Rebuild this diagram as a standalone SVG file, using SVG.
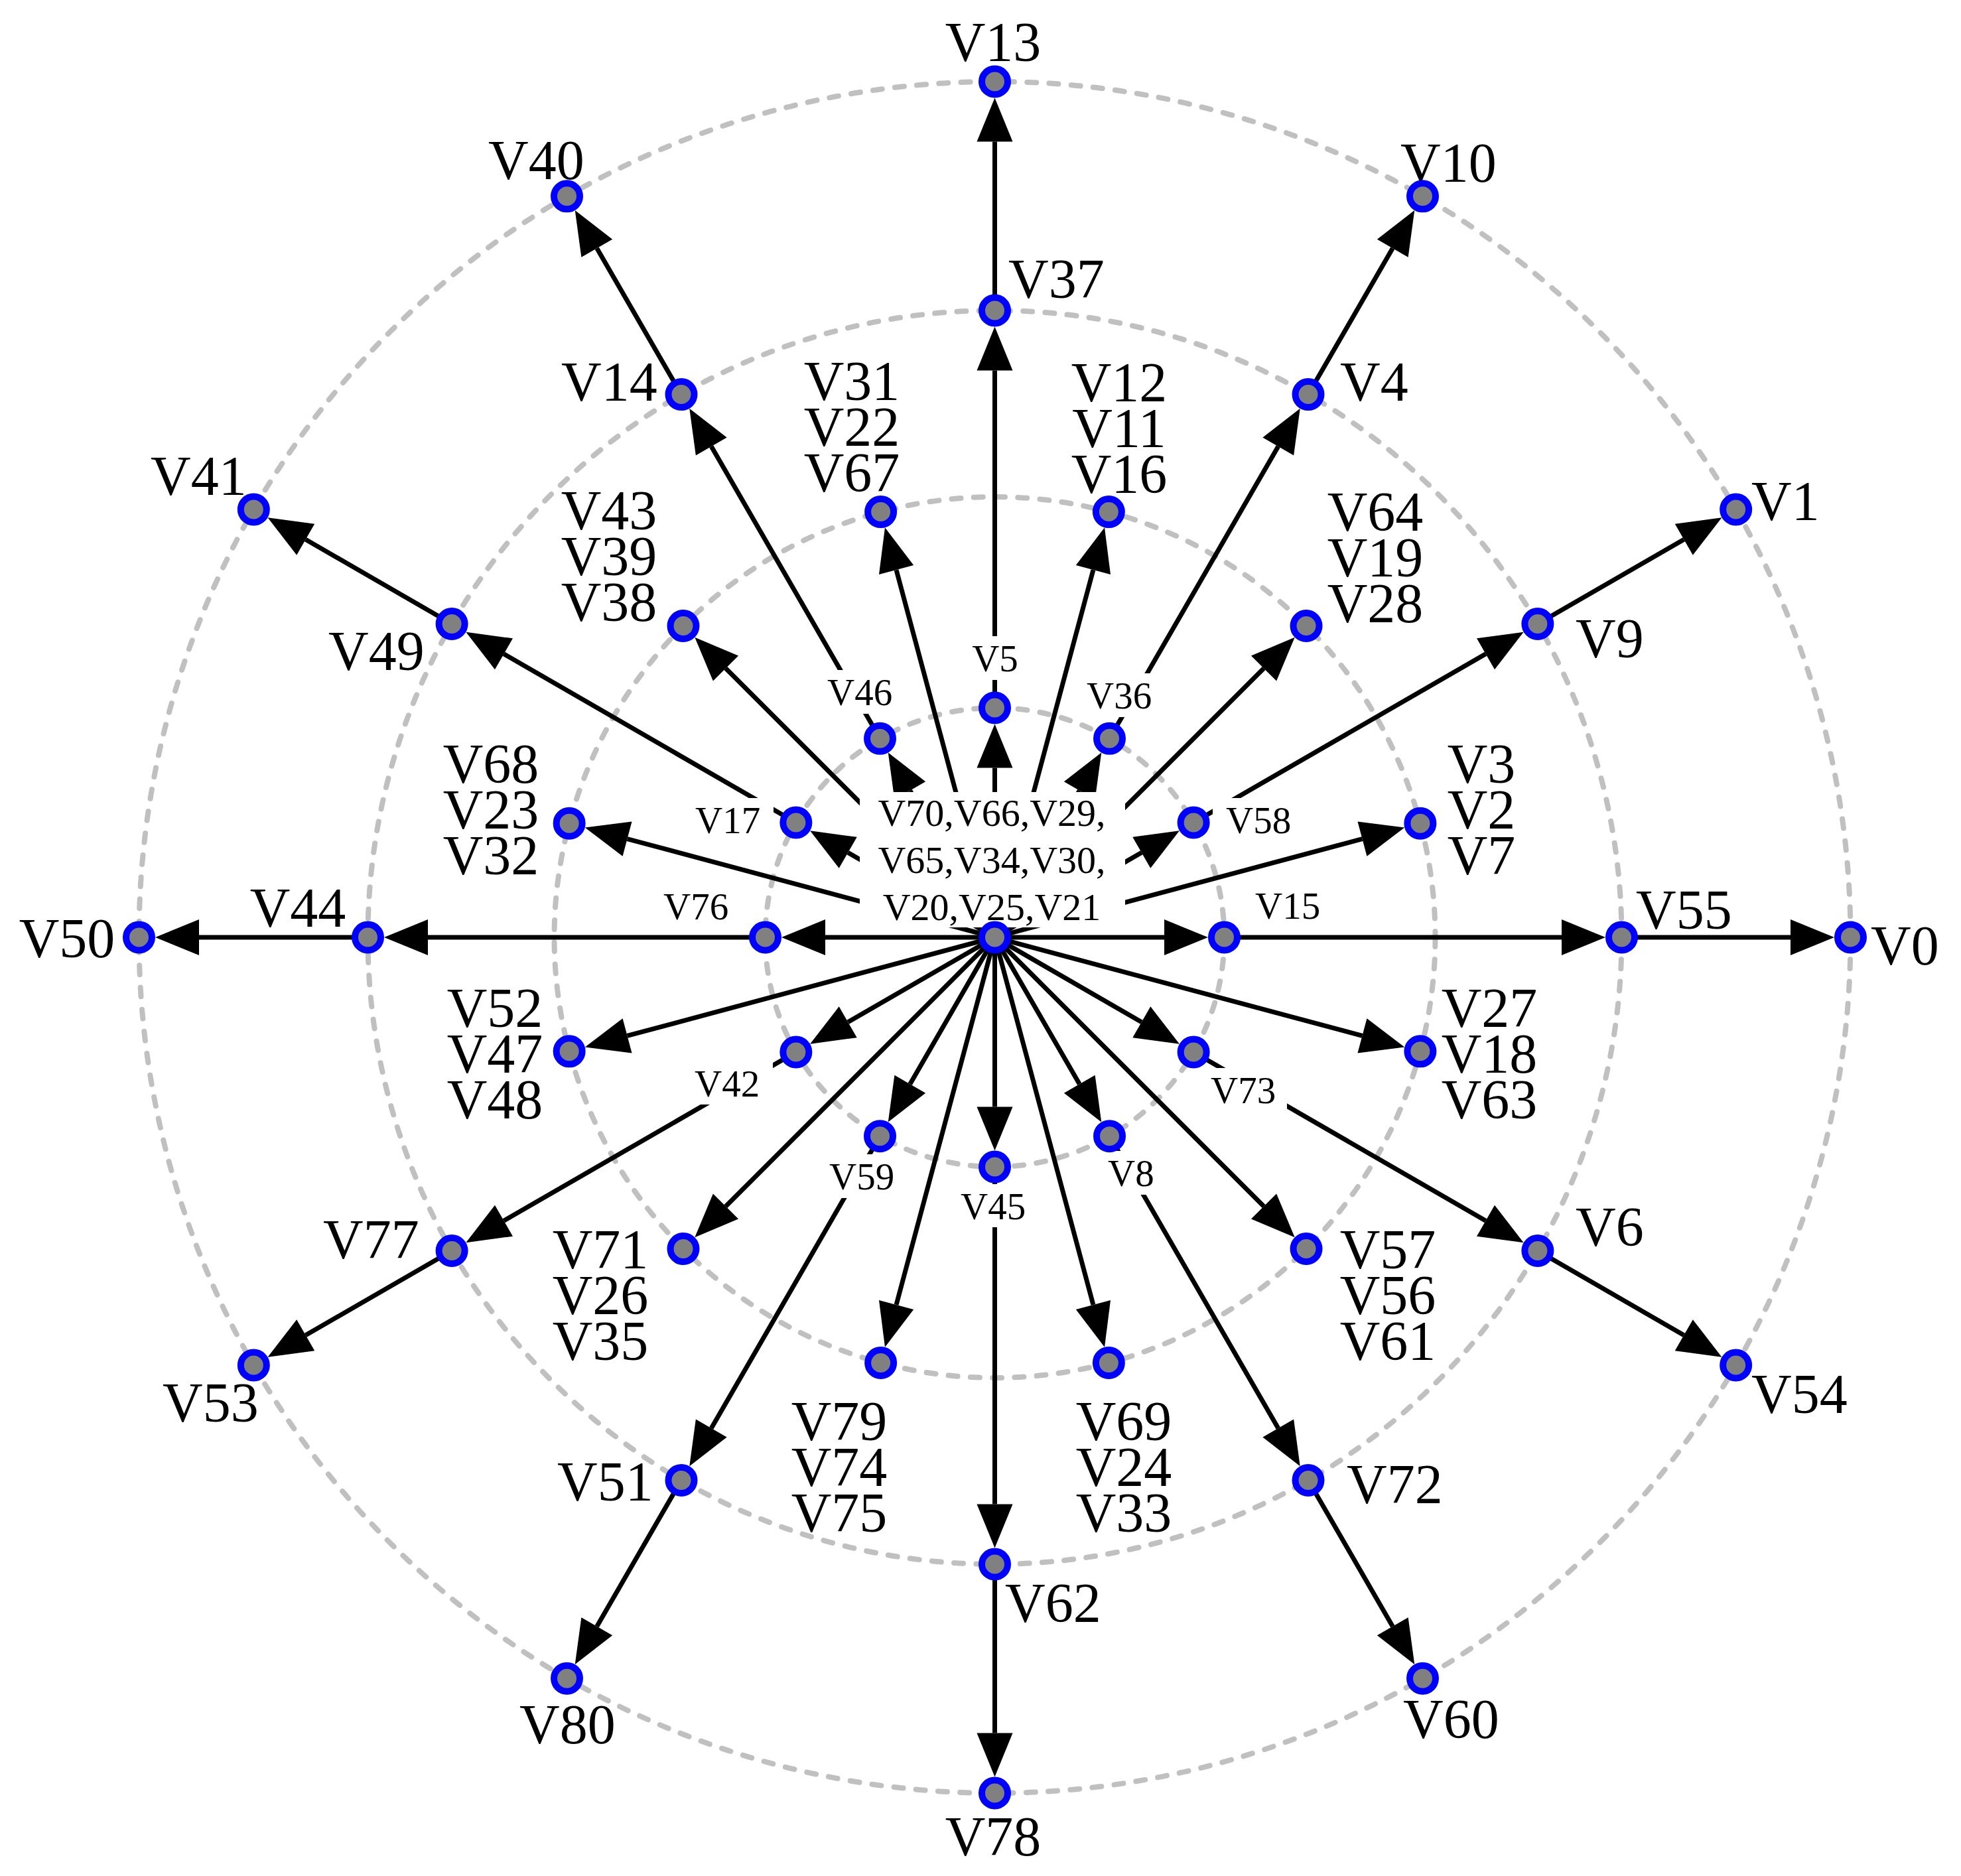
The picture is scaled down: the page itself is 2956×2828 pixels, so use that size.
<svg xmlns="http://www.w3.org/2000/svg" width="2956" height="2828" viewBox="0 0 2956 2828">
<style>
.ring{fill:none;stroke:#c0c0c0;stroke-width:8;stroke-dasharray:14 19.3;stroke-linecap:round}
.e{stroke:#000;stroke-width:7;fill:none;marker-end:url(#ah)}
.n{fill:#808080;stroke:#0000ff;stroke-width:10}
text{font-family:"Liberation Serif","Times New Roman",serif;fill:#000}
.lb{font-size:84px}
.ls{font-size:57px}
.lc{font-size:58px}
.bg{fill:#fff}
</style>
<defs>
<marker id="ah" markerUnits="userSpaceOnUse" viewBox="0 0 66 54" markerWidth="66" markerHeight="54" refX="0" refY="27" orient="auto" overflow="visible"><path d="M0,0 L66,27 L0,54 Z" fill="#000"/></marker>
</defs>
<rect width="2956" height="2828" fill="#fff"/>
<g id="rings">
<circle class="ring" cx="1499.5" cy="1413" r="346"/>
<circle class="ring" cx="1499.5" cy="1413" r="664"/>
<circle class="ring" cx="1499.5" cy="1413" r="945"/>
<circle class="ring" cx="1499.5" cy="1413" r="1290"/>
</g>
<g id="connectors">
<line class="e" x1="1499.5" y1="1413" x2="1755" y2="1413"/>
<line class="e" x1="1499.5" y1="1413" x2="1720.77" y2="1285.25"/>
<line class="e" x1="1499.5" y1="1413" x2="1627.25" y2="1191.73"/>
<line class="e" x1="1499.5" y1="1413" x2="1499.5" y2="1157.5"/>
<line class="e" x1="1499.5" y1="1413" x2="1371.75" y2="1191.73"/>
<line class="e" x1="1499.5" y1="1413" x2="1278.23" y2="1285.25"/>
<line class="e" x1="1499.5" y1="1413" x2="1244" y2="1413"/>
<line class="e" x1="1499.5" y1="1413" x2="1278.23" y2="1540.75"/>
<line class="e" x1="1499.5" y1="1413" x2="1371.75" y2="1634.27"/>
<line class="e" x1="1499.5" y1="1413" x2="1499.5" y2="1668.5"/>
<line class="e" x1="1499.5" y1="1413" x2="1627.25" y2="1634.27"/>
<line class="e" x1="1499.5" y1="1413" x2="1720.77" y2="1540.75"/>
<line class="e" x1="1499.5" y1="1413" x2="2053.46" y2="1264.57"/>
<line class="e" x1="1499.5" y1="1413" x2="1905.03" y2="1007.47"/>
<line class="e" x1="1499.5" y1="1413" x2="1647.93" y2="859.04"/>
<line class="e" x1="1499.5" y1="1413" x2="1351.07" y2="859.04"/>
<line class="e" x1="1499.5" y1="1413" x2="1093.97" y2="1007.47"/>
<line class="e" x1="1499.5" y1="1413" x2="945.54" y2="1264.57"/>
<line class="e" x1="1499.5" y1="1413" x2="945.54" y2="1561.43"/>
<line class="e" x1="1499.5" y1="1413" x2="1093.97" y2="1818.53"/>
<line class="e" x1="1499.5" y1="1413" x2="1351.07" y2="1966.96"/>
<line class="e" x1="1499.5" y1="1413" x2="1647.93" y2="1966.96"/>
<line class="e" x1="1499.5" y1="1413" x2="1905.03" y2="1818.53"/>
<line class="e" x1="1499.5" y1="1413" x2="2053.46" y2="1561.43"/>
<line class="e" x1="1845.5" y1="1413" x2="2354" y2="1413"/>
<line class="e" x1="1799.14" y1="1240" x2="2239.52" y2="985.75"/>
<line class="e" x1="1672.5" y1="1113.36" x2="1926.75" y2="672.98"/>
<line class="e" x1="1499.5" y1="1067" x2="1499.5" y2="558.5"/>
<line class="e" x1="1326.5" y1="1113.36" x2="1072.25" y2="672.98"/>
<line class="e" x1="1199.86" y1="1240" x2="759.48" y2="985.75"/>
<line class="e" x1="1153.5" y1="1413" x2="645" y2="1413"/>
<line class="e" x1="1199.86" y1="1586" x2="759.48" y2="1840.25"/>
<line class="e" x1="1326.5" y1="1712.64" x2="1072.25" y2="2153.02"/>
<line class="e" x1="1499.5" y1="1759" x2="1499.5" y2="2267.5"/>
<line class="e" x1="1672.5" y1="1712.64" x2="1926.75" y2="2153.02"/>
<line class="e" x1="1799.14" y1="1586" x2="2239.52" y2="1840.25"/>
<line class="e" x1="2444.5" y1="1413" x2="2699" y2="1413"/>
<line class="e" x1="2317.89" y1="940.5" x2="2538.3" y2="813.25"/>
<line class="e" x1="1972" y1="594.61" x2="2099.25" y2="374.2"/>
<line class="e" x1="1499.5" y1="468" x2="1499.5" y2="213.5"/>
<line class="e" x1="1027" y1="594.61" x2="899.75" y2="374.2"/>
<line class="e" x1="681.11" y1="940.5" x2="460.7" y2="813.25"/>
<line class="e" x1="554.5" y1="1413" x2="300" y2="1413"/>
<line class="e" x1="681.11" y1="1885.5" x2="460.7" y2="2012.75"/>
<line class="e" x1="1027" y1="2231.39" x2="899.75" y2="2451.8"/>
<line class="e" x1="1499.5" y1="2358" x2="1499.5" y2="2612.5"/>
<line class="e" x1="1972" y1="2231.39" x2="2099.25" y2="2451.8"/>
<line class="e" x1="2317.89" y1="1885.5" x2="2538.3" y2="2012.75"/>
</g>
<g id="n-V70-V66-V29-V65-V34-V30-V20-V25-V21">
<rect class="bg" x="1296" y="1194" width="400" height="204"/>
<text class="lc" text-anchor="middle"><tspan x="1495" y="1245">V70,V66,V29,</tspan><tspan x="1495" y="1316">V65,V34,V30,</tspan><tspan x="1495" y="1387">V20,V25,V21</tspan></text>
<circle class="n" cx="1499.5" cy="1413" r="19.5"/>
</g>
<g id="n-V15"><rect class="bg" x="1872" y="1332" width="138" height="65"/><text class="ls" x="1892" y="1385">V15</text><circle class="n" cx="1845.5" cy="1413" r="19.5"/></g>
<g id="n-V58"><rect class="bg" x="1828" y="1203" width="139" height="66"/><text class="ls" x="1848" y="1256">V58</text><circle class="n" cx="1799.14" cy="1240" r="19.5"/></g>
<g id="n-V36"><rect class="bg" x="1618" y="1015" width="139" height="66"/><text class="ls" x="1638" y="1068">V36</text><circle class="n" cx="1672.5" cy="1113.36" r="19.5"/></g>
<g id="n-V5"><rect class="bg" x="1445" y="959" width="110" height="66"/><text class="ls" x="1500" y="1012" text-anchor="middle">V5</text><circle class="n" cx="1499.5" cy="1067" r="19.5"/></g>
<g id="n-V46"><rect class="bg" x="1227" y="1010" width="138" height="66"/><text class="ls" x="1247" y="1063">V46</text><circle class="n" cx="1326.5" cy="1113.36" r="19.5"/></g>
<g id="n-V17"><rect class="bg" x="1028" y="1203" width="138" height="66"/><text class="ls" x="1048" y="1256">V17</text><circle class="n" cx="1199.86" cy="1240" r="19.5"/></g>
<g id="n-V76"><rect class="bg" x="980" y="1333" width="137" height="65"/><text class="ls" x="1000" y="1386">V76</text><circle class="n" cx="1153.5" cy="1413" r="19.5"/></g>
<g id="n-V42"><rect class="bg" x="1027" y="1598" width="138" height="67"/><text class="ls" x="1047" y="1653">V42</text><circle class="n" cx="1199.86" cy="1586" r="19.5"/></g>
<g id="n-V59"><rect class="bg" x="1230" y="1740" width="138" height="66"/><text class="ls" x="1250" y="1793">V59</text><circle class="n" cx="1326.5" cy="1712.64" r="19.5"/></g>
<g id="n-V45"><rect class="bg" x="1428" y="1785" width="139" height="65"/><text class="ls" x="1448" y="1838">V45</text><circle class="n" cx="1499.5" cy="1759" r="19.5"/></g>
<g id="n-V8"><rect class="bg" x="1650" y="1735" width="110" height="66"/><text class="ls" x="1670" y="1788">V8</text><circle class="n" cx="1672.5" cy="1712.64" r="19.5"/></g>
<g id="n-V73"><rect class="bg" x="1805" y="1610" width="135" height="66"/><text class="ls" x="1825" y="1663">V73</text><circle class="n" cx="1799.14" cy="1586" r="19.5"/></g>
<g id="n-V64-V19-V28"><text class="lb" text-anchor="middle"><tspan x="2073" y="800">V64</tspan><tspan x="2073" y="869">V19</tspan><tspan x="2073" y="938">V28</tspan></text><circle class="n" cx="1969.02" cy="943.48" r="19.5"/></g>
<g id="n-V3-V2-V7"><text class="lb" text-anchor="middle"><tspan x="2233" y="1180">V3</tspan><tspan x="2233" y="1249">V2</tspan><tspan x="2233" y="1318">V7</tspan></text><circle class="n" cx="2140.88" cy="1241.14" r="19.5"/></g>
<g id="n-V12-V11-V16"><text class="lb" text-anchor="middle"><tspan x="1687" y="605">V12</tspan><tspan x="1687" y="674">V11</tspan><tspan x="1687" y="743">V16</tspan></text><circle class="n" cx="1671.36" cy="771.62" r="19.5"/></g>
<g id="n-V31-V22-V67"><text class="lb" text-anchor="middle"><tspan x="1284" y="603">V31</tspan><tspan x="1284" y="672">V22</tspan><tspan x="1284" y="741">V67</tspan></text><circle class="n" cx="1327.64" cy="771.62" r="19.5"/></g>
<g id="n-V43-V39-V38"><text class="lb" text-anchor="middle"><tspan x="918" y="798">V43</tspan><tspan x="918" y="867">V39</tspan><tspan x="918" y="936">V38</tspan></text><circle class="n" cx="1029.98" cy="943.48" r="19.5"/></g>
<g id="n-V68-V23-V32"><text class="lb" text-anchor="middle"><tspan x="740" y="1180">V68</tspan><tspan x="740" y="1249">V23</tspan><tspan x="740" y="1318">V32</tspan></text><circle class="n" cx="858.12" cy="1241.14" r="19.5"/></g>
<g id="n-V52-V47-V48"><text class="lb" text-anchor="middle"><tspan x="746" y="1548">V52</tspan><tspan x="746" y="1617">V47</tspan><tspan x="746" y="1686">V48</tspan></text><circle class="n" cx="858.12" cy="1584.86" r="19.5"/></g>
<g id="n-V71-V26-V35"><text class="lb" text-anchor="middle"><tspan x="905" y="1912">V71</tspan><tspan x="905" y="1981">V26</tspan><tspan x="905" y="2050">V35</tspan></text><circle class="n" cx="1029.98" cy="1882.52" r="19.5"/></g>
<g id="n-V79-V74-V75"><text class="lb" text-anchor="middle"><tspan x="1265" y="2171">V79</tspan><tspan x="1265" y="2240">V74</tspan><tspan x="1265" y="2309">V75</tspan></text><circle class="n" cx="1327.64" cy="2054.38" r="19.5"/></g>
<g id="n-V69-V24-V33"><text class="lb" text-anchor="middle"><tspan x="1694" y="2171">V69</tspan><tspan x="1694" y="2240">V24</tspan><tspan x="1694" y="2309">V33</tspan></text><circle class="n" cx="1671.36" cy="2054.38" r="19.5"/></g>
<g id="n-V57-V56-V61"><text class="lb" text-anchor="middle"><tspan x="2092" y="1912">V57</tspan><tspan x="2092" y="1981">V56</tspan><tspan x="2092" y="2050">V61</tspan></text><circle class="n" cx="1969.02" cy="1882.52" r="19.5"/></g>
<g id="n-V27-V18-V63"><text class="lb" text-anchor="middle"><tspan x="2245" y="1548">V27</tspan><tspan x="2245" y="1617">V18</tspan><tspan x="2245" y="1686">V63</tspan></text><circle class="n" cx="2140.88" cy="1584.86" r="19.5"/></g>
<g id="n-V55"><text class="lb" x="2466" y="1400">V55</text><circle class="n" cx="2444.5" cy="1413" r="19.5"/></g>
<g id="n-V9"><text class="lb" x="2375" y="991">V9</text><circle class="n" cx="2317.89" cy="940.5" r="19.5"/></g>
<g id="n-V4"><text class="lb" x="2020" y="604">V4</text><circle class="n" cx="1972" cy="594.61" r="19.5"/></g>
<g id="n-V37"><text class="lb" x="1520" y="449">V37</text><circle class="n" cx="1499.5" cy="468" r="19.5"/></g>
<g id="n-V14"><text class="lb" x="846" y="604">V14</text><circle class="n" cx="1027" cy="594.61" r="19.5"/></g>
<g id="n-V49"><text class="lb" x="495" y="1010">V49</text><circle class="n" cx="681.11" cy="940.5" r="19.5"/></g>
<g id="n-V44"><text class="lb" x="449" y="1397" text-anchor="middle">V44</text><circle class="n" cx="554.5" cy="1413" r="19.5"/></g>
<g id="n-V77"><text class="lb" x="487" y="1897">V77</text><circle class="n" cx="681.11" cy="1885.5" r="19.5"/></g>
<g id="n-V51"><text class="lb" x="840" y="2262">V51</text><circle class="n" cx="1027" cy="2231.39" r="19.5"/></g>
<g id="n-V62"><text class="lb" x="1515" y="2445">V62</text><circle class="n" cx="1499.5" cy="2358" r="19.5"/></g>
<g id="n-V72"><text class="lb" x="2030" y="2266">V72</text><circle class="n" cx="1972" cy="2231.39" r="19.5"/></g>
<g id="n-V6"><text class="lb" x="2375" y="1878">V6</text><circle class="n" cx="2317.89" cy="1885.5" r="19.5"/></g>
<g id="n-V0"><text class="lb" x="2820" y="1454">V0</text><circle class="n" cx="2789.5" cy="1413" r="19.5"/></g>
<g id="n-V1"><text class="lb" x="2640" y="784">V1</text><circle class="n" cx="2616.67" cy="768" r="19.5"/></g>
<g id="n-V10"><text class="lb" x="2111" y="274">V10</text><circle class="n" cx="2144.5" cy="295.83" r="19.5"/></g>
<g id="n-V13"><text class="lb" x="1497" y="92" text-anchor="middle">V13</text><circle class="n" cx="1499.5" cy="123" r="19.5"/></g>
<g id="n-V40"><text class="lb" x="736" y="270">V40</text><circle class="n" cx="854.5" cy="295.83" r="19.5"/></g>
<g id="n-V41"><text class="lb" x="227" y="746">V41</text><circle class="n" cx="382.33" cy="768" r="19.5"/></g>
<g id="n-V50"><text class="lb" x="101" y="1443" text-anchor="middle">V50</text><circle class="n" cx="209.5" cy="1413" r="19.5"/></g>
<g id="n-V53"><text class="lb" x="245" y="2143">V53</text><circle class="n" cx="382.33" cy="2058" r="19.5"/></g>
<g id="n-V80"><text class="lb" x="783" y="2628">V80</text><circle class="n" cx="854.5" cy="2530.17" r="19.5"/></g>
<g id="n-V78"><text class="lb" x="1497" y="2797" text-anchor="middle">V78</text><circle class="n" cx="1499.5" cy="2703" r="19.5"/></g>
<g id="n-V60"><text class="lb" x="2115" y="2620">V60</text><circle class="n" cx="2144.5" cy="2530.17" r="19.5"/></g>
<g id="n-V54"><text class="lb" x="2640" y="2130">V54</text><circle class="n" cx="2616.67" cy="2058" r="19.5"/></g>
</svg>
